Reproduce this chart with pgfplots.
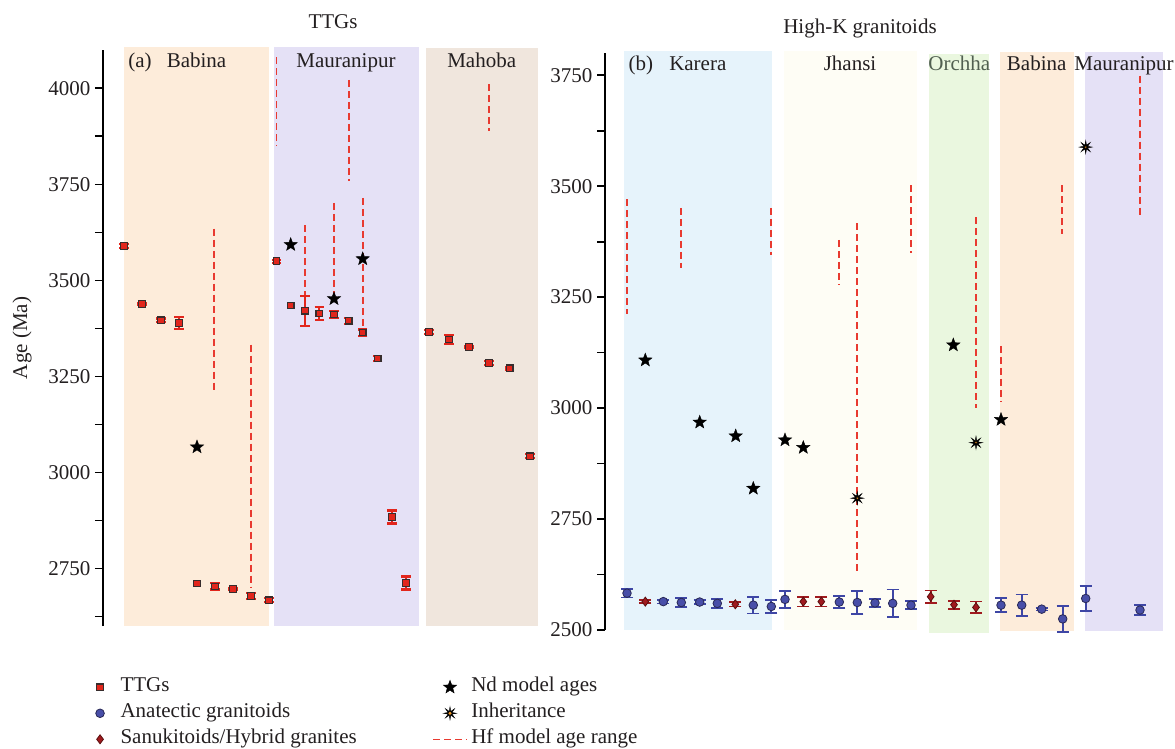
\documentclass[border=0pt]{standalone}
\usepackage{fontspec}
\setmainfont{Liberation Serif}
\usepackage{pgfplots}
\pgfplotsset{compat=1.18}
\definecolor{txtcol}{RGB}{35,31,32}
\definecolor{ttgred}{RGB}{226,38,28}
\definecolor{ttgedge}{RGB}{55,45,45}
\definecolor{anblue}{RGB}{72,78,168}
\definecolor{anedge}{RGB}{40,40,85}
\definecolor{anbar}{RGB}{62,70,165}
\definecolor{sanred}{RGB}{160,26,30}
\definecolor{sanedge}{RGB}{90,15,15}
\definecolor{hfred}{RGB}{232,58,48}
\definecolor{inhor}{RGB}{235,150,40}
\definecolor{bBabina}{RGB}{253,236,218}
\definecolor{bMaur}{RGB}{229,225,246}
\definecolor{bMahoba}{RGB}{240,230,221}
\definecolor{bKarera}{RGB}{230,243,251}
\definecolor{bJhansi}{RGB}{254,253,245}
\definecolor{bOrchha}{RGB}{234,247,223}
\definecolor{orchtxt}{RGB}{80,95,80}
\newcommand{\lbl}{\fontsize{21}{25}\selectfont}

\pgfdeclareplotmark{fstar}{%
  \pgfpathmoveto{\pgfpointpolar{90}{\pgfplotmarksize}}%
  \pgfpathlineto{\pgfpointpolar{126}{0.42\pgfplotmarksize}}%
  \pgfpathlineto{\pgfpointpolar{162}{\pgfplotmarksize}}%
  \pgfpathlineto{\pgfpointpolar{198}{0.42\pgfplotmarksize}}%
  \pgfpathlineto{\pgfpointpolar{234}{\pgfplotmarksize}}%
  \pgfpathlineto{\pgfpointpolar{270}{0.42\pgfplotmarksize}}%
  \pgfpathlineto{\pgfpointpolar{306}{\pgfplotmarksize}}%
  \pgfpathlineto{\pgfpointpolar{342}{0.42\pgfplotmarksize}}%
  \pgfpathlineto{\pgfpointpolar{18}{\pgfplotmarksize}}%
  \pgfpathlineto{\pgfpointpolar{54}{0.42\pgfplotmarksize}}%
  \pgfpathclose\pgfusepathqfillstroke}
\pgfdeclareplotmark{inh}{%
  \pgfpathmoveto{\pgfpointpolar{0}{\pgfplotmarksize}}%
  \pgfpathlineto{\pgfpointpolar{22.5}{0.32\pgfplotmarksize}}%
  \pgfpathlineto{\pgfpointpolar{45}{\pgfplotmarksize}}%
  \pgfpathlineto{\pgfpointpolar{67.5}{0.32\pgfplotmarksize}}%
  \pgfpathlineto{\pgfpointpolar{90}{\pgfplotmarksize}}%
  \pgfpathlineto{\pgfpointpolar{112.5}{0.32\pgfplotmarksize}}%
  \pgfpathlineto{\pgfpointpolar{135}{\pgfplotmarksize}}%
  \pgfpathlineto{\pgfpointpolar{157.5}{0.32\pgfplotmarksize}}%
  \pgfpathlineto{\pgfpointpolar{180}{\pgfplotmarksize}}%
  \pgfpathlineto{\pgfpointpolar{202.5}{0.32\pgfplotmarksize}}%
  \pgfpathlineto{\pgfpointpolar{225}{\pgfplotmarksize}}%
  \pgfpathlineto{\pgfpointpolar{247.5}{0.32\pgfplotmarksize}}%
  \pgfpathlineto{\pgfpointpolar{270}{\pgfplotmarksize}}%
  \pgfpathlineto{\pgfpointpolar{292.5}{0.32\pgfplotmarksize}}%
  \pgfpathlineto{\pgfpointpolar{315}{\pgfplotmarksize}}%
  \pgfpathlineto{\pgfpointpolar{337.5}{0.32\pgfplotmarksize}}%
  \pgfpathclose\pgfusepathqfillstroke}

\pgfplotsset{
  ttgmark/.style={mark=square*, mark size=3.3pt, mark options={fill=ttgred, draw=ttgedge, line width=1.1pt}},
  anmark/.style={mark=*, mark size=4.3pt, mark options={fill=anblue, draw=anedge, line width=0.8pt}},
  sanmark/.style={mark=diamond*, mark size=4.5pt, mark options={fill=sanred, draw=sanedge, line width=0.8pt}},
  ndmark/.style={mark=fstar, mark size=7pt, mark options={fill=black, draw=black, line width=0.4pt}},
  inhmark/.style={mark=inh, mark size=6.5pt, mark options={fill=black, draw=black, line width=0.4pt}},
  inhcenter/.style={mark=*, mark size=1.3pt, mark options={fill=inhor, draw=none}},
  hfstyle/.style={color=hfred, line width=1.5pt, dash pattern=on 7pt off 4pt},
  hflegend/.style={legend image code/.code={\draw[##1] (0pt,0pt) -- (34pt,0pt);}},
  markleg/.style={legend image code/.code={\path[draw=none] (0pt,0pt) (34pt,0pt); \draw[##1] plot coordinates {(17pt,0pt)};}},
  inhleg/.style={legend image code/.code={\path[draw=none] (0pt,0pt) (34pt,0pt); \draw[##1] plot coordinates {(17pt,0pt)}; \fill[inhor] (17pt,0pt) circle (1.3pt);}},
  common/.style={
    scale only axis, anchor=south west, clip=false,
    axis x line=none, axis y line*=left,
    axis line style={-, line width=1.8pt, color=black},
    tick align=outside, major tick length=8pt, minor tick length=8pt,
    major tick style={line width=1.8pt, color=black},
    minor tick style={line width=1.8pt, color=black},
    yticklabel style={font=\lbl, text=txtcol, xshift=-1pt},
    /pgf/number format/assume math mode=true,
    /pgf/number format/1000 sep={},
  },
  ebttg/.style={error bars/y dir=both, error bars/y explicit,
    error bars/error bar style={line width=2pt, color=ttgred},
    error bars/error mark options={rotate=90, mark size=4.7pt, line width=2.2pt, color=ttgred}},
  eban/.style={error bars/y dir=both, error bars/y explicit,
    error bars/error bar style={line width=1.7pt, color=anbar},
    error bars/error mark options={rotate=90, mark size=6pt, line width=1.7pt, color=anbar}},
  ebsan/.style={error bars/y dir=both, error bars/y explicit,
    error bars/error bar style={line width=1.7pt, color=sanred},
    error bars/error mark options={rotate=90, mark size=6pt, line width=1.7pt, color=sanred}},
}

\begin{document}
\begin{tikzpicture}
\useasboundingbox (0pt,0pt) rectangle (1175pt,748pt);

% ---------------- Panel (a) TTGs ----------------
\begin{axis}[common,
  at={(103pt,122pt)}, width=437pt, height=576pt,
  xmin=103, xmax=540, ymin=2600, ymax=4100,
  ytick={2750,3000,3250,3500,3750,4000},
  minor ytick={2625,2875,3125,3375,3625,3875},
  ylabel={Age (Ma)},
  ylabel style={at={(axis description cs:-0.185,0.5)}, anchor=center, font=\lbl, text=txtcol},
  legend columns=2, legend cell align=left,
  legend style={draw=none, fill=none, at={(axis description cs:-0.053,-0.08)}, anchor=north west,
    font=\lbl, text=txtcol,
    nodes={inner sep=3.5pt, text height=14pt, text depth=5pt},
    /tikz/every even column/.append style={column sep=72pt}},
]
\fill[bBabina] (axis cs:124,2600) rectangle (axis cs:269,4108);
\fill[bMaur] (axis cs:274,2600) rectangle (axis cs:419,4108);
\fill[bMahoba] (axis cs:426,2600) rectangle (axis cs:538,4106);

% Hf model age ranges
\addplot[forget plot, hfstyle, unbounded coords=jump] coordinates {
 (214,3635) (214,3215) (214,nan)
 (251,3333) (251,2702) (251,nan)
 (276.5,4081) (276.5,3851) (276.5,nan)
 (305,3643) (305,3460) (305,nan)
 (334,3702) (334,3465) (334,nan)
 (349,4022) (349,3760) (349,nan)
 (363,3715) (363,3370) (363,nan)
 (489,4011) (489,3890)
};

% TTGs with error bars
\addplot[forget plot, only marks, ttgmark, ebttg] table[x=x, y=y, y error=e] {
x y e
124 3589 5
142 3439 3
161 3396 5
179 3389 15
215 2703 8
233 2696 3
251 2678 7
269 2667 5
276.5 3550 4
305 3421 39
319.3 3414 17
334 3411 9
348.7 3395 8
362.7 3364 8
377.7 3297 6
392 2884 17
406 2712 17
429 3365 5
449 3346 11
469 3327 3
489 3285 5
509.7 3271 3
530 3042 5
};
\addplot[forget plot, only marks, ttgmark] coordinates {(197,2711) (290.7,3435)};

% Nd model ages
\addplot[forget plot, only marks, ndmark] coordinates {(197,3066) (290.7,3593) (334,3452) (362.7,3556)};

% labels
\node[anchor=base, font=\lbl, text=txtcol] at (axis cs:140,4055) {(a)};
\node[anchor=base, font=\lbl, text=txtcol] at (axis cs:196.5,4055) {Babina};
\node[anchor=base, font=\lbl, text=txtcol] at (axis cs:346,4055) {Mauranipur};
\node[anchor=base, font=\lbl, text=txtcol] at (axis cs:481.7,4055) {Mahoba};

% legend
\addlegendimage{ttgmark, markleg}
\addlegendentry{TTGs}
\addlegendimage{ndmark, markleg}
\addlegendentry{Nd model ages}
\addlegendimage{anmark, markleg}
\addlegendentry{Anatectic granitoids}
\addlegendimage{inhmark, inhleg}
\addlegendentry{Inheritance}
\addlegendimage{sanmark, markleg}
\addlegendentry{Sanukitoids/Hybrid granites}
\addlegendimage{hfstyle, hflegend}
\addlegendentry{Hf model age range}
\end{axis}

% ---------------- Panel (b) High-K granitoids ----------------
\begin{axis}[common,
  at={(605pt,118pt)}, width=570pt, height=577pt,
  xmin=605, xmax=1175, ymin=2500, ymax=3800,
  ytick={2500,2750,3000,3250,3500,3750},
  minor ytick={2625,2875,3125,3375,3625},
]
\fill[bKarera] (axis cs:624,2500) rectangle (axis cs:771.7,3805);
\fill[bJhansi] (axis cs:784.3,2500) rectangle (axis cs:917.3,3805);
\fill[bOrchha] (axis cs:929.3,2494) rectangle (axis cs:989,3798);
\fill[bBabina] (axis cs:1000,2498) rectangle (axis cs:1073.7,3802);
\fill[bMaur] (axis cs:1085,2498) rectangle (axis cs:1162.7,3802);

\addplot[forget plot, hfstyle, unbounded coords=jump] coordinates {
 (627,3470) (627,3213) (627,nan)
 (681,3451) (681,3315) (681,nan)
 (771,3451) (771,3344) (771,nan)
 (839,3379) (839,3279) (839,nan)
 (857,3416) (857,2633) (857,nan)
 (911,3502) (911,3350) (911,nan)
 (976,3430) (976,3000) (976,nan)
 (1001,3140) (1001,3016) (1001,nan)
 (1062,3502) (1062,3393) (1062,nan)
 (1140,3749) (1140,3432)
};

% Anatectic granitoids
\addplot[forget plot, only marks, anmark, eban] table[x=x, y=y, y error=e] {
x y e
627 2583 10
663.3 2564 4
681.3 2562 10
699.7 2563 4
717.3 2560 10
753.3 2556 19
771.3 2553 15
785 2569 19
839.3 2563 13
857.3 2562 26
875 2561 9
892.7 2560 31
911 2556 9
1001 2556 16
1021.7 2556 24
1041.7 2547 3
1062.7 2525 29
1085.7 2571 28
1140 2545 11
};

% Sanukitoids / hybrid granites
\addplot[forget plot, only marks, sanmark, ebsan] table[x=x, y=y, y error=e] {
x y e
645.3 2564 3
735.3 2558 5
803.3 2564 11
821.3 2564 11
930.7 2575 14
954 2557 9
976 2551 13
};

% Nd model ages
\addplot[forget plot, only marks, ndmark] coordinates {
 (645.3,3108) (699.7,2968) (735.7,2937) (753.3,2819)
 (785,2928) (803.3,2911) (953.3,3142) (1001,2974)};

% Inheritance
\addplot[forget plot, only marks, inhmark] coordinates {(857.3,2797) (976,2922) (1085.7,3588)};
\addplot[forget plot, only marks, inhcenter] coordinates {(857.3,2797) (976,2922) (1085.7,3588)};

\node[anchor=base, font=\lbl, text=txtcol] at (axis cs:640.8,3761) {(b)};
\node[anchor=base, font=\lbl, text=txtcol] at (axis cs:697.8,3761) {Karera};
\node[anchor=base, font=\lbl, text=txtcol] at (axis cs:850,3761) {Jhansi};
\node[anchor=base, font=\lbl, text=orchtxt] at (axis cs:959.3,3761) {Orchha};
\node[anchor=base, font=\lbl, text=txtcol] at (axis cs:1036.7,3761) {Babina};
\node[anchor=base, font=\lbl, text=txtcol] at (axis cs:1124,3761) {Mauranipur};
\end{axis}

\node[font=\lbl, text=txtcol] at (333pt,726pt) {TTGs};
\node[font=\lbl, text=txtcol] at (860pt,720pt) {High-K granitoids};
\end{tikzpicture}
\end{document}
